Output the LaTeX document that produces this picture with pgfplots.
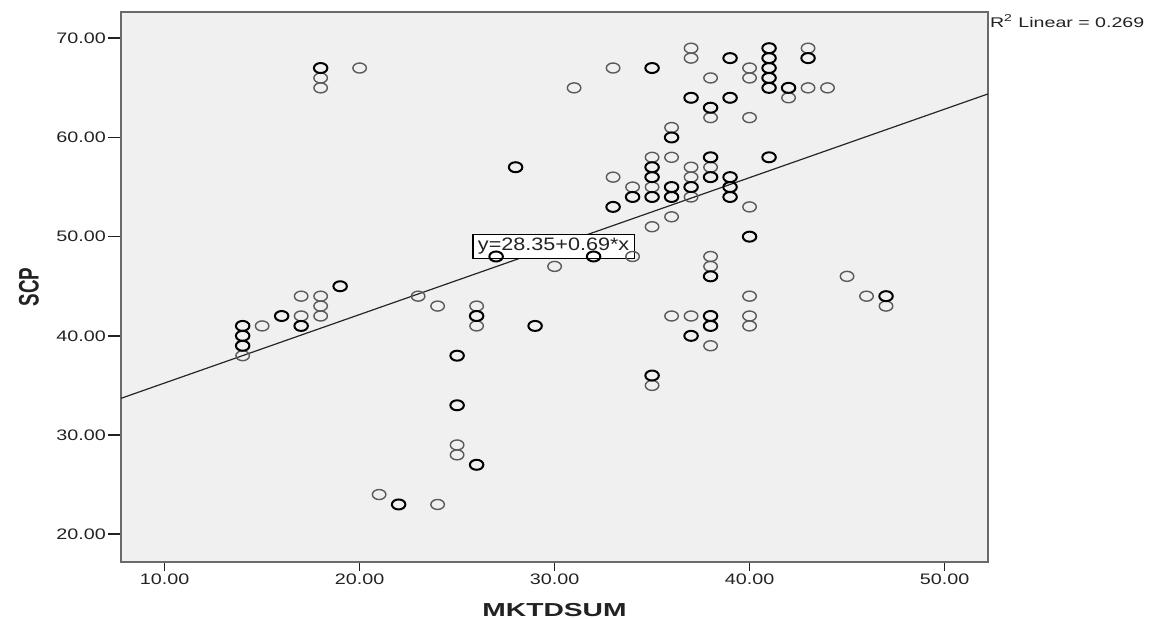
\documentclass[border=0pt]{standalone}
\usepackage{fontspec}
\setmainfont{Liberation Sans}
\newfontfamily\tickfont[FakeStretch=1.3]{Liberation Sans}
\newfontfamily\labfont[FakeStretch=1.5]{Liberation Sans}
\newfontfamily\eqfont[FakeStretch=1.2]{Liberation Sans}
\newfontfamily\rfont[FakeStretch=1.4]{Liberation Sans}
\usepackage{pgfplots}
\pgfplotsset{compat=1.18}
\definecolor{bg}{HTML}{F0F0F0}
\definecolor{framec}{HTML}{6A6A6A}
\definecolor{ptgray}{HTML}{5A5A5A}
\definecolor{txt}{HTML}{222222}

% points seen once
\pgfplotstableread{
x y
14 38
15 41
17 44
17 42
18 66
18 65
18 44
18 43
18 42
20 67
21 24
23 44
24 43
24 23
25 29
25 28
26 43
26 41
30 47
31 65
33 67
33 56
34 55
34 48
35 58
35 55
35 51
35 35
36 61
36 58
36 52
36 42
37 69
37 68
37 57
37 56
37 54
37 42
38 66
38 62
38 57
38 48
38 47
38 39
40 67
40 66
40 62
40 53
40 44
40 42
40 41
42 64
43 69
43 65
44 65
45 46
46 44
47 43
}\single

% points drawn darker (several cases)
\pgfplotstableread{
x y
14 41
14 40
14 39
16 42
17 41
18 67
19 45
22 23
25 38
25 33
26 42
26 27
27 48
28 57
29 41
32 48
33 53
34 54
35 67
35 57
35 56
35 54
35 36
36 60
36 55
36 54
37 64
37 55
37 40
38 63
38 58
38 56
38 46
38 42
38 41
39 68
39 64
39 56
39 55
39 54
40 50
41 69
41 68
41 67
41 66
41 65
41 58
42 65
43 68
47 44
}\multi

\begin{document}
\begin{tikzpicture}
\begin{axis}[
    at={(60.5pt,28.5pt)}, anchor=south west,
    scale only axis, width=433.5pt, height=275pt,
    xmin=7.76, xmax=52.23, ymin=17.2, ymax=72.65,
    axis background/.style={fill=bg},
    axis line style={framec, line width=1pt},
    xtick={10,20,30,40,50}, ytick={20,30,40,50,60,70},
    xticklabels={10.00,20.00,30.00,40.00,50.00},
    yticklabels={20.00,30.00,40.00,50.00,60.00,70.00},
    tick align=outside, tick pos=left,
    major tick length=6.5pt,
    xtick style={/pgfplots/major tick length=4.5pt},
    tick style={txt, line width=0.8pt},
    xticklabel style={font=\tickfont\fontsize{7.6}{9}\selectfont, text=txt, yshift=4pt},
    yticklabel style={font=\tickfont\fontsize{7.6}{9}\selectfont, text=txt, xshift=2.5pt},
    clip=false,
]
\addplot[only marks, mark=o, mark size=2.5pt,
    mark options={xscale=1.35, line width=0.7pt, draw=ptgray}] table[x=x, y=y] {\single};
\addplot[only marks, mark=o, mark size=2.5pt,
    mark options={xscale=1.35, line width=1pt, draw=black}] table[x=x, y=y] {\multi};
% fit line
\addplot[black!85, line width=0.6pt] coordinates {(7.76,33.70) (52.23,64.39)};

\node[draw=black, fill=white, line width=0.6pt, inner xsep=2.5pt, inner ysep=2pt,
    font=\eqfont\fontsize{9}{10}\selectfont, text=txt] at (axis cs:29.95,49.0) {y=28.35+0.69*x};
\node[anchor=base west, font=\rfont\fontsize{7}{8}\selectfont, text=txt]
    at ([xshift=-2.5pt, yshift=-8pt]rel axis cs:1,1) {R\textsuperscript{2} Linear = 0.269};
\node[font=\labfont\bfseries\fontsize{9.4}{10}\selectfont, text=txt]
    at ([yshift=-24pt]rel axis cs:0.5,0) {MKTDSUM};
\node[font=\bfseries\fontsize{9.4}{10}\selectfont, text=txt]
    at ([xshift=-46pt]rel axis cs:0,0.5) {\rotatebox{90}{\scalebox{1}[1.5]{SCP}}};
\end{axis}
\pgfresetboundingbox
\path[use as bounding box] (0,0) rectangle (578pt,309.5pt);
\end{tikzpicture}
\end{document}
